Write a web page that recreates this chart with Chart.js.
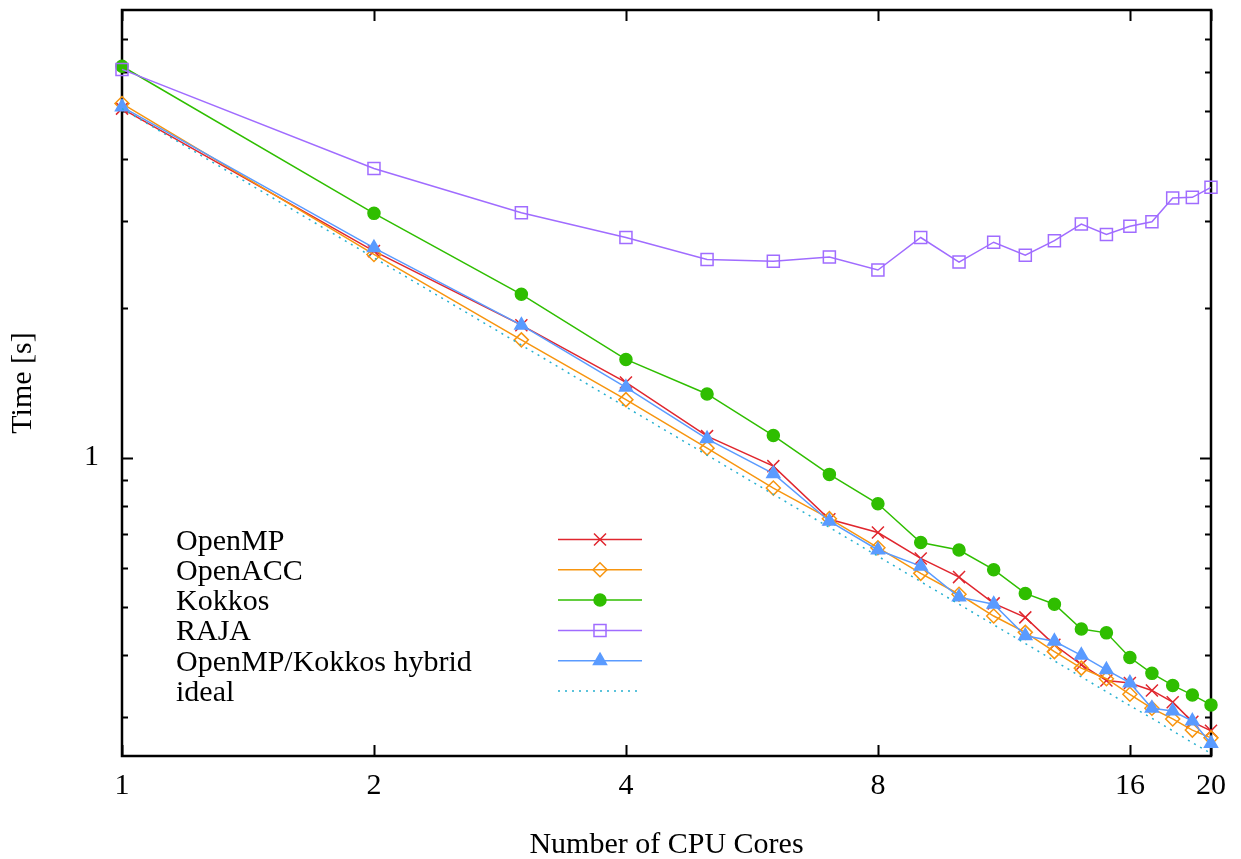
<!DOCTYPE html>
<html>
<head>
<meta charset="utf-8">
<script src="https://cdn.jsdelivr.net/npm/chart.js@4/dist/chart.umd.min.js"></script>
<style>
html,body{margin:0;padding:0;background:#fff;}
#wrap{width:1241px;height:859px;}
</style>
</head>
<body>
<div id="wrap"><canvas id="c" width="1241" height="859"></canvas></div>
<script>
const cores   = [1,2,3,4,5,6,7,8,9,10,11,12,13,14,15,16,17,18,19,20];
const openmp  = [5.06,2.61,1.85,1.418,1.105,0.961,0.751,0.706,0.626,0.574,0.508,0.476,0.419,0.382,0.355,0.351,0.339,0.321,0.293,0.281];
const openacc = [5.18,2.57,1.728,1.309,1.045,0.868,0.753,0.658,0.584,0.530,0.479,0.444,0.406,0.376,0.358,0.333,0.312,0.297,0.282,0.272];
const kokkos  = [6.16,3.11,2.135,1.578,1.344,1.108,0.925,0.807,0.674,0.651,0.594,0.532,0.506,0.451,0.443,0.395,0.367,0.347,0.332,0.317];
const raja    = [6.07,3.83,3.12,2.78,2.51,2.49,2.54,2.39,2.78,2.48,2.72,2.56,2.74,2.96,2.82,2.93,2.99,3.34,3.35,3.51];
const hybrid  = [5.10,2.65,1.85,1.386,1.091,0.928,0.744,0.651,0.604,0.523,0.506,0.437,0.426,0.399,0.373,0.351,0.312,0.308,0.294,0.265];
const ideal   = [5.06,2.53,1.687,1.265,1.012,0.843,0.723,0.6325,0.562,0.506,0.46,0.4217,0.389,0.361,0.337,0.316,0.298,0.281,0.266,0.253];

const seriesNames = ['OpenMP','OpenACC','Kokkos','RAJA','OpenMP/Kokkos hybrid','ideal'];
const xTickValues = [1,2,4,8,16,20];
const yMajorTicks = [1];
const yMinorTicks = [0.3,0.4,0.5,0.6,0.7,0.8,0.9,2,3,4,5,6,7];
const xRange = [1,20];
const yRange = [0.25,8];

const FONT = "'Liberation Serif', 'Times New Roman', serif";
const FS = 30;

function pts(arr){ return cores.map((c,i)=>({x:c,y:arr[i]})); }

const styles = [
  {color:'#e0262e', pointStyle:'crossRot', radius:8.5, fill:'#e0262e'},
  {color:'#f7950f', pointStyle:'rectRot',  radius:7,   fill:'rgba(0,0,0,0)'},
  {color:'#2fbe00', pointStyle:'circle',   radius:6,   fill:'#2fbe00'},
  {color:'#a06cff', pointStyle:'rect',     radius:8.5, fill:'rgba(0,0,0,0)'},
  {color:'#5a9bff', pointStyle:'triangle', radius:7.5, fill:'#5a9bff'},
  {color:'#26b0d0', pointStyle:false,      radius:0,   fill:'#26b0d0', dash:[2,5]}
];
const allData = [openmp, openacc, kokkos, raja, hybrid, ideal];

const datasets = allData.map((arr,i)=>({
  label: seriesNames[i],
  data: pts(arr),
  borderColor: styles[i].color,
  backgroundColor: styles[i].fill,
  pointBackgroundColor: styles[i].fill,
  pointBorderColor: styles[i].color,
  pointStyle: styles[i].pointStyle,
  pointRadius: styles[i].radius,
  pointBorderWidth: 1.5,
  borderWidth: 1.5,
  borderDash: styles[i].dash || [],
  tension: 0,
  fill: false,
  clip: false,
  order: 5 - i
}));

const gnuFrame = {
  id:'gnuFrame',
  beforeDatasetsDraw(chart){
    const ctx = chart.ctx, a = chart.chartArea;
    const xs = chart.scales.x, ys = chart.scales.y;
    ctx.save();
    ctx.strokeStyle = '#000';
    ctx.lineWidth = 2;
    ctx.beginPath();
    yMinorTicks.forEach(v=>{
      const y = Math.round(ys.getPixelForValue(v))+0.5;
      ctx.moveTo(a.left, y); ctx.lineTo(a.left+6, y);
      ctx.moveTo(a.right, y); ctx.lineTo(a.right-6, y);
    });
    yMajorTicks.forEach(v=>{
      const y = Math.round(ys.getPixelForValue(v))+0.5;
      ctx.moveTo(a.left, y); ctx.lineTo(a.left+11, y);
      ctx.moveTo(a.right, y); ctx.lineTo(a.right-11, y);
    });
    xTickValues.forEach(v=>{
      const x = Math.round(xs.getPixelForValue(v))+0.5;
      ctx.moveTo(x, a.bottom); ctx.lineTo(x, a.bottom-11);
      ctx.moveTo(x, a.top); ctx.lineTo(x, a.top+11);
    });
    ctx.stroke();
    ctx.lineWidth = 2.5;
    ctx.strokeRect(a.left, a.top, a.right-a.left, a.bottom-a.top);
    ctx.restore();
  },
  afterDraw(chart){
    const ctx = chart.ctx;
    ctx.save();
    ctx.font = FS + 'px ' + FONT;
    ctx.fillStyle = '#000';
    ctx.textAlign = 'left';
    ctx.textBaseline = 'alphabetic';
    const y0 = 539.5, dy = 30.3;
    chart.data.datasets.forEach((ds,i)=>{
      const y = y0 + i*dy;
      ctx.fillStyle = '#000';
      ctx.fillText(ds.label, 176, y + 10);
      ctx.save();
      ctx.strokeStyle = ds.borderColor;
      ctx.lineWidth = ds.borderWidth;
      ctx.setLineDash(ds.borderDash || []);
      ctx.beginPath();
      ctx.moveTo(558, y); ctx.lineTo(642, y);
      ctx.stroke();
      ctx.setLineDash([]);
      if (ds.pointStyle) {
        ctx.fillStyle = ds.pointBackgroundColor;
        ctx.strokeStyle = ds.pointBorderColor;
        ctx.lineWidth = ds.pointBorderWidth;
        Chart.helpers.drawPoint(ctx, {pointStyle: ds.pointStyle, radius: ds.pointRadius, borderWidth: ds.pointBorderWidth, rotation: 0}, 600, y);
      }
      ctx.restore();
    });
    ctx.restore();
  }
};

new Chart(document.getElementById('c'), {
  type:'line',
  data:{datasets},
  options:{
    responsive:false,
    animation:false,
    events:[],
    layout:{padding:{left:0,right:30,top:7,bottom:0}},
    plugins:{legend:{display:false}, tooltip:{enabled:false}},
    scales:{
      x:{
        type:'logarithmic', min:xRange[0], max:xRange[1],
        grid:{display:false, drawTicks:false},
        border:{display:false},
        afterBuildTicks(s){ s.ticks = xTickValues.map(v=>({value:v})); },
        afterFit(s){ s.height = 103; s.paddingLeft = 0; s.paddingRight = 0; },
        ticks:{autoSkip:false, maxRotation:0, padding:12, color:'#000',
               font:{family:FONT, size:FS, lineHeight:1.2},
               callback:(v)=>String(v)},
        title:{display:true, text:'Number of CPU Cores', color:'#000',
               font:{family:FONT, size:FS, lineHeight:0.9}, padding:{top:0,bottom:0}}
      },
      y:{
        type:'logarithmic', min:yRange[0], max:yRange[1],
        grid:{display:false, drawTicks:false},
        border:{display:false},
        afterBuildTicks(s){ s.ticks = yMajorTicks.map(v=>({value:v})); },
        afterFit(s){ s.width = 122; s.paddingTop = 0; s.paddingBottom = 0; },
        ticks:{autoSkip:false, padding:23, color:'#000',
               font:{family:FONT, size:FS, lineHeight:1.2},
               callback:(v)=>String(v)},
        title:{display:true, text:'Time [s]', color:'#000',
               font:{family:FONT, size:FS, lineHeight:1}, padding:{top:8,bottom:0}}
      }
    }
  },
  plugins:[gnuFrame]
});
</script>
</body>
</html>
